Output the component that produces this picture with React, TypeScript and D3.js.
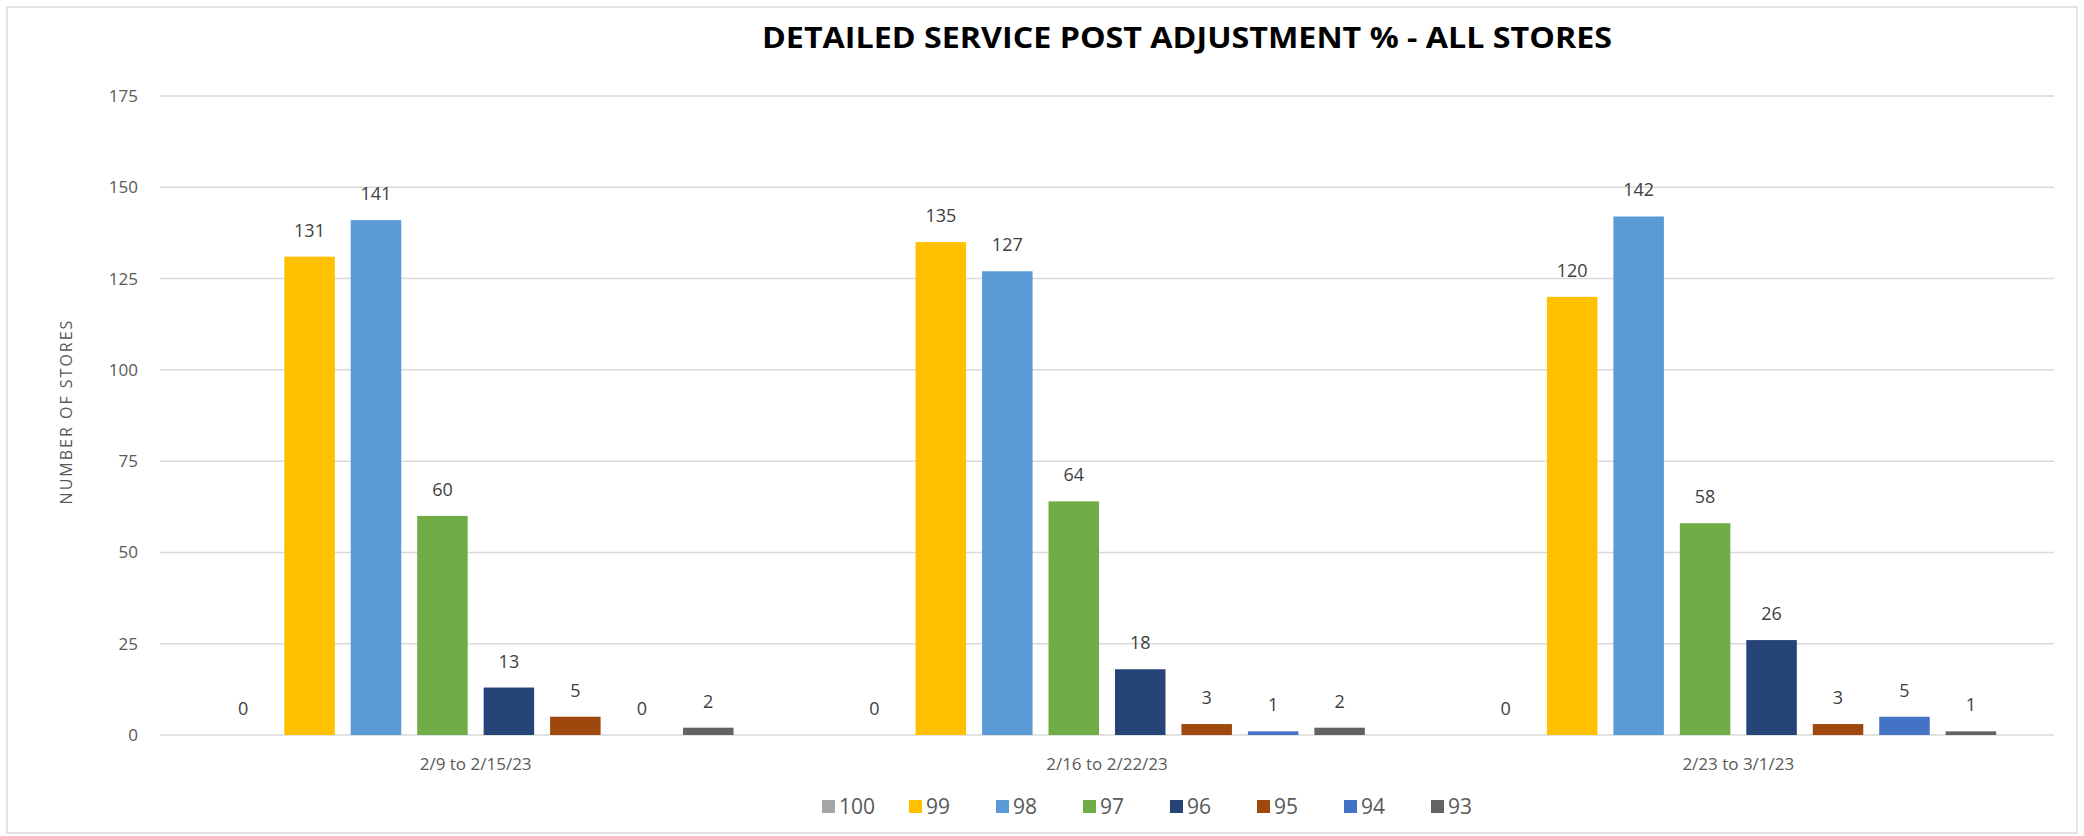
import React from "react";
import * as d3 from "d3";

const categories = ["2/9 to 2/15/23", "2/16 to 2/22/23", "2/23 to 3/1/23"];
const seriesNames = ["100", "99", "98", "97", "96", "95", "94", "93"];
const seriesColors = ["#A5A5A5", "#FFC000", "#5B9BD5", "#70AD47", "#264478", "#9E480E", "#4472C4", "#636363"];
const values100 = [0, 0, 0];
const values99 = [131, 135, 120];
const values98 = [141, 127, 142];
const values97 = [60, 64, 58];
const values96 = [13, 18, 26];
const values95 = [5, 3, 3];
const values94 = [0, 1, 5];
const values93 = [2, 2, 1];
const yTicks = [0, 25, 50, 75, 100, 125, 150, 175];

const seriesValues = [values100, values99, values98, values97, values96, values95, values94, values93];

const W = 2084;
const H = 836;
const margin = { left: 160, right: 30, top: 96, bottom: 101 };

export default function App() {
  const x0 = d3.scaleBand<string>().domain(categories).range([margin.left, W - margin.right]).padding(0);
  const x1 = d3
    .scaleBand<string>()
    .domain(seriesNames)
    .range([0, x0.bandwidth()])
    .paddingInner(0.24)
    .paddingOuter(0.87);
  const y = d3.scaleLinear().domain([0, 175]).range([H - margin.bottom, margin.top]);
  const font = "'Open Sans', 'Liberation Sans', sans-serif";

  const legendStep = 87;
  const legendStart = 822;

  return (
    <div style={{ position: "fixed", left: 0, top: 0 }}>
      <svg width={W} height={H} style={{ display: "block", background: "#fff" }}>
        <rect x={7} y={7} width={W - 14} height={H - 10} fill="#fff" stroke="#d9d9d9" strokeWidth={1.5} />
        <text
          x={1187}
          y={48}
          textAnchor="middle"
          fontFamily={font}
          fontWeight={700}
          fontSize={28}
          fill="#000"
          textLength={850}
          lengthAdjust="spacingAndGlyphs"
        >
          DETAILED SERVICE POST ADJUSTMENT % - ALL STORES
        </text>
        {yTicks.map((t) => (
          <g key={t}>
            <line x1={margin.left} x2={W - margin.right} y1={y(t)} y2={y(t)} stroke="#d9d9d9" strokeWidth={1.5} />
            <text x={138} y={y(t)} dy="0.35em" textAnchor="end" fontFamily={font} fontSize={17} fill="#595959">
              {t}
            </text>
          </g>
        ))}
        <text
          transform={`translate(72, ${(y(0) + y(175)) / 2 - 4}) rotate(-90)`}
          textAnchor="middle"
          fontFamily={font}
          fontSize={16}
          fill="#595959"
          letterSpacing={2}
        >
          NUMBER OF STORES
        </text>
        {categories.map((c, ci) => (
          <g key={c} transform={`translate(${x0(c)},0)`}>
            {seriesNames.map((s, si) => {
              const v = seriesValues[si][ci];
              const bx = x1(s)!;
              return (
                <g key={s}>
                  <rect x={bx} y={y(v)} width={x1.bandwidth()} height={y(0) - y(v)} fill={seriesColors[si]} />
                  <text
                    x={bx + x1.bandwidth() / 2}
                    y={y(v) - 20}
                    textAnchor="middle"
                    fontFamily={font}
                    fontSize={18}
                    fill="#404040"
                  >
                    {v}
                  </text>
                </g>
              );
            })}
            <text
              x={x0.bandwidth() / 2}
              y={y(0) + 35}
              textAnchor="middle"
              fontFamily={font}
              fontSize={17}
              fill="#595959"
            >
              {c}
            </text>
          </g>
        ))}
        {seriesNames.map((s, si) => {
          const lx = legendStart + legendStep * si;
          return (
            <g key={s} transform={`translate(${lx}, 807)`}>
              <rect x={0} y={-7} width={13} height={13} fill={seriesColors[si]} />
              <text x={17} y={0} dy="0.35em" fontFamily={font} fontSize={21} fill="#595959">
                {s}
              </text>
            </g>
          );
        })}
      </svg>
    </div>
  );
}
